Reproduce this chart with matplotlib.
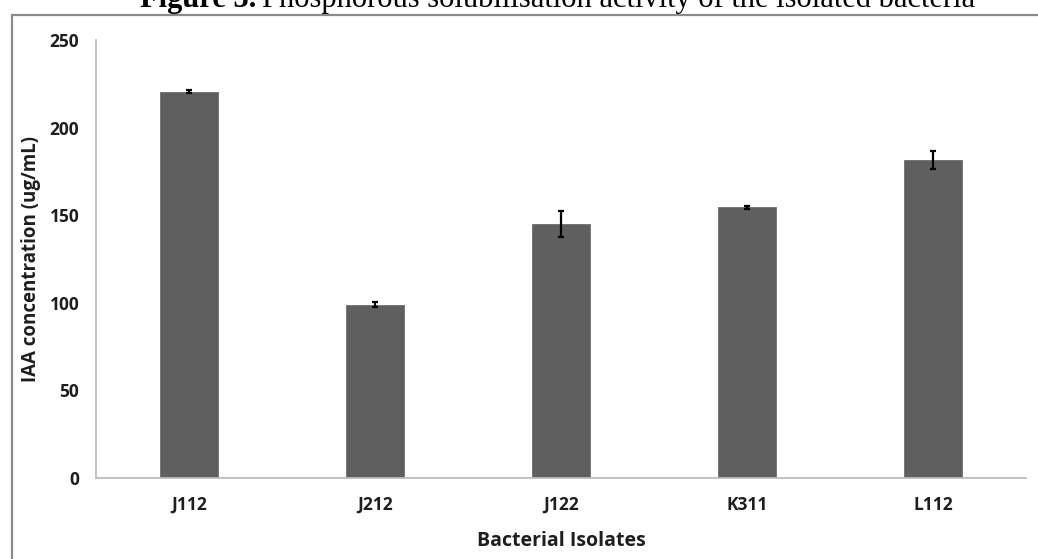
import matplotlib
matplotlib.use("Agg")
import matplotlib.pyplot as plt
from matplotlib.patches import Rectangle
import numpy as np

# Data
isolates = ["J112", "J212", "J122", "K311", "L112"]
iaa_conc = [220.5, 99.0, 145.0, 154.5, 181.5]
iaa_err = [1.0, 1.5, 7.5, 1.0, 5.0]
y_ticks = [0, 50, 100, 150, 200, 250]

W, H = 1038, 559
fig = plt.figure(figsize=(W / 100, H / 100), dpi=100)

# Frame around the chart area
frame = Rectangle((12 / W, -0.2), 1.2, 1 - 15 / H + 0.2, transform=fig.transFigure,
                  fill=False, edgecolor="#8c8c8c", linewidth=1.6, zorder=0)
fig.patches.append(frame)

# Caption: bold figure number followed by regular text
cap_size = 22
t1 = fig.text(140 / W, 1 - 7 / H, "Figure 3.", family="Liberation Serif", fontweight="bold",
              fontsize=cap_size, ha="left", va="baseline")
fig.canvas.draw()
bb = t1.get_window_extent(renderer=fig.canvas.get_renderer())
fig.text((bb.x1 + 6) / W, 1 - 7 / H,
         "Phosphorous solubilisation activity of the isolated bacteria",
         family="Liberation Serif", fontsize=cap_size, ha="left", va="baseline")

ax = fig.add_axes([96 / W, 1 - 478 / H, (1026 - 96) / W, (478 - 40) / H])
x = np.arange(len(isolates))
ax.bar(x, iaa_conc, width=0.31, color="#5f5f5f", edgecolor="#6e6e6e", linewidth=0.6,
       yerr=iaa_err, error_kw=dict(ecolor="black", elinewidth=1.6, capsize=2.5, capthick=1.6))

ax.set_xlim(-0.5, len(isolates) - 0.5)
ax.set_ylim(0, 250)
ax.set_yticks(y_ticks)
ax.set_xticks(x)
ax.set_xticklabels(isolates)

for side in ("top", "right"):
    ax.spines[side].set_visible(False)
for side in ("left", "bottom"):
    ax.spines[side].set_color("#bdbdbd")
    ax.spines[side].set_linewidth(1.3)

ax.tick_params(axis="both", length=0, labelsize=12.5)
ax.tick_params(axis="y", pad=12)
ax.tick_params(axis="x", pad=13)
for lbl in ax.get_xticklabels() + ax.get_yticklabels():
    lbl.set_family("Open Sans")
    lbl.set_fontweight("bold")
    lbl.set_color("#1e1e1e")

ax.set_xlabel("Bacterial Isolates", family="Open Sans", fontweight="bold", fontsize=14,
              color="#1e1e1e", labelpad=12)
ax.set_ylabel("IAA concentration (ug/mL)", family="Open Sans", fontweight="bold", fontsize=13.5,
              color="#1e1e1e", labelpad=6)

fig.savefig("out.png", dpi=100)
